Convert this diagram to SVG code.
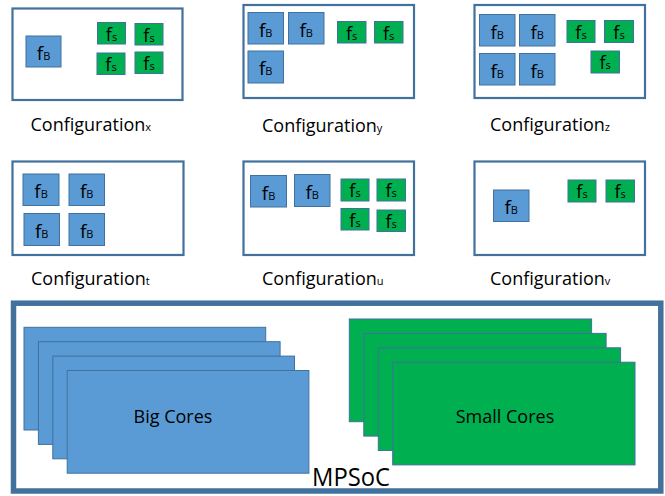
<svg xmlns="http://www.w3.org/2000/svg" width="665" height="496" viewBox="0 0 665 496">
  <style>
    .frame { fill: #ffffff; stroke: #41719C; stroke-width: 2.2; }
    .big { fill: #5B9BD5; stroke: #41719C; stroke-width: 1; }
    .small { fill: #00B050; stroke: #41719C; stroke-width: 1; }
    .soc { fill: #ffffff; stroke: #41719C; stroke-width: 5.5; }
    text { font-family: "Open Sans", "Liberation Sans", sans-serif; fill: #000000; }
    .fb { font-size: 19px; text-anchor: middle; }
    .fs { font-size: 18px; text-anchor: middle; }
    .sub { font-size: 11px; }
    .cap { font-size: 18px; }
    .capsub { font-size: 11px; }
    .core { font-size: 18px; text-anchor: middle; }
  </style>

  <!-- Configuration x -->
  <g id="config-x">
    <rect class="frame" x="12.5" y="8.5" width="170" height="91.5"/>
    <rect class="big" x="26" y="36" width="35" height="31"/>
    <text class="fb" x="43.5" y="60">f<tspan class="sub">B</tspan></text>
    <rect class="small" x="97.5" y="22.5" width="28" height="21.5"/>
    <text class="fs" x="111.5" y="40.5">f<tspan class="sub">s</tspan></text>
    <rect class="small" x="135" y="23.5" width="28" height="21.5"/>
    <text class="fs" x="149" y="41.5">f<tspan class="sub">s</tspan></text>
    <rect class="small" x="97" y="53" width="28" height="21.5"/>
    <text class="fs" x="111" y="71">f<tspan class="sub">s</tspan></text>
    <rect class="small" x="135" y="52" width="28" height="21.5"/>
    <text class="fs" x="149" y="70">f<tspan class="sub">s</tspan></text>
    <text class="cap" x="30.5" y="131">Configuration<tspan class="capsub">x</tspan></text>
  </g>

  <!-- Configuration y -->
  <g id="config-y">
    <rect class="frame" x="243.5" y="5" width="170.5" height="93"/>
    <rect class="big" x="248" y="12.5" width="35.5" height="31.5"/>
    <text class="fb" x="265.7" y="36.5">f<tspan class="sub">B</tspan></text>
    <rect class="big" x="288.5" y="12.5" width="35.5" height="31.5"/>
    <text class="fb" x="306.2" y="36.5">f<tspan class="sub">B</tspan></text>
    <rect class="big" x="248" y="51" width="35.5" height="32"/>
    <text class="fb" x="265.7" y="75">f<tspan class="sub">B</tspan></text>
    <rect class="small" x="337.5" y="21.5" width="28.5" height="21.5"/>
    <text class="fs" x="351.7" y="39.5">f<tspan class="sub">s</tspan></text>
    <rect class="small" x="374.5" y="21.5" width="28.5" height="21.5"/>
    <text class="fs" x="388.7" y="39.5">f<tspan class="sub">s</tspan></text>
    <text class="cap" x="262" y="131.5">Configuration<tspan class="capsub">y</tspan></text>
  </g>

  <!-- Configuration z -->
  <g id="config-z">
    <rect class="frame" x="474.5" y="5" width="170.5" height="93"/>
    <rect class="big" x="479.5" y="14.5" width="35.5" height="31.5"/>
    <text class="fb" x="497.2" y="38.5">f<tspan class="sub">B</tspan></text>
    <rect class="big" x="519.5" y="14.5" width="35.5" height="31.5"/>
    <text class="fb" x="537.2" y="38.5">f<tspan class="sub">B</tspan></text>
    <rect class="big" x="479.5" y="53.5" width="35.5" height="31.5"/>
    <text class="fb" x="497.2" y="77.5">f<tspan class="sub">B</tspan></text>
    <rect class="big" x="519.5" y="53.5" width="35.5" height="31.5"/>
    <text class="fb" x="537.2" y="77.5">f<tspan class="sub">B</tspan></text>
    <rect class="small" x="567" y="20.5" width="28" height="22"/>
    <text class="fs" x="581" y="38.5">f<tspan class="sub">s</tspan></text>
    <rect class="small" x="604.5" y="20.5" width="29" height="22"/>
    <text class="fs" x="619" y="38.5">f<tspan class="sub">s</tspan></text>
    <rect class="small" x="591" y="51" width="28.5" height="22"/>
    <text class="fs" x="605.2" y="69">f<tspan class="sub">s</tspan></text>
    <text class="cap" x="490" y="131">Configuration<tspan class="capsub">z</tspan></text>
  </g>

  <!-- Configuration t -->
  <g id="config-t">
    <rect class="frame" x="12.5" y="161.5" width="171" height="93.5"/>
    <rect class="big" x="23" y="174" width="36" height="31.5"/>
    <text class="fb" x="41" y="198">f<tspan class="sub">B</tspan></text>
    <rect class="big" x="69" y="174" width="35.5" height="31.5"/>
    <text class="fb" x="86.7" y="198">f<tspan class="sub">B</tspan></text>
    <rect class="big" x="24" y="213.5" width="35.5" height="32"/>
    <text class="fb" x="41.7" y="237.5">f<tspan class="sub">B</tspan></text>
    <rect class="big" x="69" y="213.5" width="35.5" height="32"/>
    <text class="fb" x="86.7" y="237.5">f<tspan class="sub">B</tspan></text>
    <text class="cap" x="31" y="285">Configuration<tspan class="capsub">t</tspan></text>
  </g>

  <!-- Configuration u -->
  <g id="config-u">
    <rect class="frame" x="243.5" y="161.5" width="170.5" height="93.5"/>
    <rect class="big" x="250.5" y="175.5" width="36" height="31.5"/>
    <text class="fb" x="268.5" y="199.5">f<tspan class="sub">B</tspan></text>
    <rect class="big" x="294.5" y="174.5" width="35.5" height="32"/>
    <text class="fb" x="312.2" y="198.5">f<tspan class="sub">B</tspan></text>
    <rect class="small" x="341" y="179" width="28" height="22"/>
    <text class="fs" x="355" y="197">f<tspan class="sub">s</tspan></text>
    <rect class="small" x="377" y="179" width="28.5" height="22"/>
    <text class="fs" x="391.2" y="197">f<tspan class="sub">s</tspan></text>
    <rect class="small" x="341" y="208.5" width="28" height="21.5"/>
    <text class="fs" x="355" y="226.5">f<tspan class="sub">s</tspan></text>
    <rect class="small" x="377" y="210" width="28.5" height="21.5"/>
    <text class="fs" x="391.2" y="228">f<tspan class="sub">s</tspan></text>
    <text class="cap" x="262" y="285">Configuration<tspan class="capsub">u</tspan></text>
  </g>

  <!-- Configuration v -->
  <g id="config-v">
    <rect class="frame" x="474.5" y="161.5" width="170.5" height="93.5"/>
    <rect class="big" x="493.5" y="190" width="35.5" height="31.5"/>
    <text class="fb" x="511.2" y="214">f<tspan class="sub">B</tspan></text>
    <rect class="small" x="568" y="180" width="28" height="22"/>
    <text class="fs" x="582" y="198">f<tspan class="sub">s</tspan></text>
    <rect class="small" x="606" y="180" width="28.5" height="22"/>
    <text class="fs" x="620.2" y="198">f<tspan class="sub">s</tspan></text>
    <text class="cap" x="490" y="285">Configuration<tspan class="capsub">v</tspan></text>
  </g>

  <!-- MPSoC with stacked big and small core groups -->
  <g id="mpsoc">
    <rect class="soc" x="13.5" y="303.2" width="647.3" height="187.8"/>
    <text x="351" y="486" font-size="25" text-anchor="middle" textLength="78" lengthAdjust="spacingAndGlyphs">MPSoC</text>
  </g>

  <g id="big-cores">
    <rect class="big" x="24" y="327.3" width="241.7" height="102.7"/>
    <rect class="big" x="38.4" y="341.7" width="241.7" height="102.7"/>
    <rect class="big" x="52.8" y="356.1" width="241.7" height="102.7"/>
    <rect class="big" x="67.2" y="370.5" width="241.7" height="102.7"/>
    <text class="core" x="173" y="422.5">Big Cores</text>
  </g>

  <g id="small-cores">
    <rect class="small" x="349.3" y="319" width="242.3" height="102.7"/>
    <rect class="small" x="363.8" y="333.4" width="242.3" height="102.7"/>
    <rect class="small" x="378.3" y="347.8" width="242.3" height="102.7"/>
    <rect class="small" x="392.7" y="362.2" width="242.3" height="102.7"/>
    <text class="core" x="505" y="422.5">Small Cores</text>
  </g>
</svg>
